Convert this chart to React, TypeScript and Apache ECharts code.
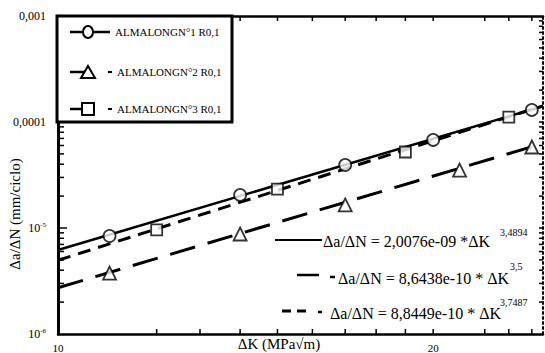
import React, { useEffect, useRef } from "react";
import * as echarts from "echarts";

// ---------- data ----------
const seriesNames = ["ALMALONGN°1 R0,1", "ALMALONGN°2 R0,1", "ALMALONGN°3 R0,1"];

const series1K = [11, 14, 17, 20, 24];
const series1V = [8.4e-6, 2.05e-5, 3.93e-5, 6.77e-5, 1.3e-4];
const series2K = [11, 14, 17, 21, 24];
const series2V = [3.76e-6, 8.78e-6, 1.65e-5, 3.52e-5, 5.81e-5];
const series3K = [12, 15, 19, 23];
const series3V = [9.6e-6, 2.33e-5, 5.21e-5, 1.11e-4];

// power-law fit lines (straight in log-log): values read at both ends
const fitK = [10, 24.5];
const fit1V = [6.2e-6, 1.41e-4];
const fit2V = [2.73e-6, 6.28e-5];
const fit3V = [4.96e-6, 1.42e-4];

const fitLabels = [
  "Δa/ΔN = 2,0076e-09 *ΔK",
  "Δa/ΔN = 8,6438e-10 * ΔK",
  "Δa/ΔN = 8,8449e-10 * ΔK",
];
const fitExponents = ["3,4894", "3,5", "3,7487"];

const xMin = 10;
const xMax = 24.5;
const yMin = 1e-6;
const yMax = 1e-3;
const xTickValues = [12, 13, 14, 15, 16, 17, 18, 19, 20, 22, 23, 24];
const xLabelValues = [10, 20];
const yMantissas = [2, 3, 4, 5, 6, 7, 8, 9];
const yDecades = [1e-6, 1e-5, 1e-4];
const yMajorTicks = [1e-5, 1e-4];

const xName = "ΔK (MPa√m)";
const yName = "Δa/ΔN (mm/ciclo)";

const FF = "Liberation Serif, DejaVu Serif, serif";
const BLACK = "#000";

function zip(k: number[], v: number[]) {
  return k.map((x, i) => [x, v[i]]);
}

function txt(x: number, y: number, text: string, size: number, extra: any = {}, align = "left") {
  return {
    type: "text",
    z: 52,
    x,
    y,
    ...extra,
    style: {
      text,
      fontSize: size,
      fontFamily: FF,
      fill: BLACK,
      align,
      textAlign: align,
      verticalAlign: "middle",
      textVerticalAlign: "middle",
    },
  };
}

function seg(x1: number, y1: number, x2: number, y2: number, w: number) {
  return { type: "line", z: 51, shape: { x1, y1, x2, y2 }, style: { stroke: BLACK, lineWidth: w } };
}

export default function App() {
  const ref = useRef<HTMLDivElement>(null);

  useEffect(() => {
    if (!ref.current) return;
    const chart = echarts.init(ref.current, null, { renderer: "svg" });

    const yMinorTicks: number[] = [];
    yDecades.forEach((d) => yMantissas.forEach((m) => yMinorTicks.push(m * d)));

    const tickStyle = { stroke: BLACK, lineWidth: 1.5 };

    const markerStyle = {
      color: "#fff",
      borderColor: BLACK,
      borderWidth: 1.8,
    };

    const graphic: any[] = [
      // legend box
      { type: "rect", z: 50, shape: { x: 57, y: 16, width: 175, height: 106 }, style: { fill: "#fff", stroke: BLACK, lineWidth: 3 } },
      // row 1
      seg(70, 32, 110, 32, 2.5),
      { type: "ellipse", z: 52, shape: { cx: 88, cy: 32, rx: 5, ry: 6 }, style: { fill: "#fff", stroke: BLACK, lineWidth: 2 } },
      txt(115, 32, seriesNames[0], 11),
      // row 2
      seg(70, 72, 92, 72, 2.5),
      { type: "polygon", z: 52, shape: { points: [[81, 78], [95, 78], [88, 66]] }, style: { fill: "#fff", stroke: BLACK, lineWidth: 2 } },
      seg(108, 72, 112, 72, 2),
      txt(117, 72, seriesNames[1], 11),
      // row 3
      seg(70, 109, 82, 109, 2.5),
      { type: "rect", z: 52, shape: { x: 82, y: 103, width: 12, height: 12 }, style: { fill: "#fff", stroke: BLACK, lineWidth: 2 } },
      seg(108, 109, 112, 109, 2),
      txt(117, 109, seriesNames[2], 11),

      // fit equations
      seg(275, 240, 322, 240, 2),
      txt(323, 241, fitLabels[0], 16),
      txt(500, 232, fitExponents[0], 10),

      seg(297, 275, 319, 275, 2.5),
      seg(330, 277, 335, 277, 2.5),
      txt(338, 278, fitLabels[1], 16),
      txt(510, 266, fitExponents[1], 10),

      seg(282, 311, 291, 311, 3),
      seg(297, 311, 306, 311, 3),
      seg(318, 312, 322, 312, 2.5),
      txt(330, 313, fitLabels[2], 16),
      txt(500, 302, fitExponents[2], 10),

      // axis names
      txt(279, 344, xName, 15, {}, "center"),
      txt(15, 214, yName, 15, { rotation: Math.PI / 2 }, "center"),
    ];

    const option: any = {
      animation: false,
      backgroundColor: "#fff",
      textStyle: { fontFamily: FF, color: BLACK },
      grid: { left: 58, right: 2, top: 16, bottom: 19, containLabel: false },
      xAxis: [
        {
          type: "log", logBase: 10, min: xMin, max: xMax, position: "bottom",
          axisLine: { show: true, lineStyle: { color: BLACK, width: 2.5 } },
          axisTick: { show: false }, axisLabel: { show: false }, splitLine: { show: false },
        },
        {
          type: "log", logBase: 10, min: xMin, max: xMax, position: "top",
          axisLine: { show: true, lineStyle: { color: BLACK, width: 2.5 } },
          axisTick: { show: false }, axisLabel: { show: false }, splitLine: { show: false },
        },
      ],
      yAxis: [
        {
          type: "log", logBase: 10, min: yMin, max: yMax, position: "left",
          axisLine: { show: true, lineStyle: { color: BLACK, width: 3 } },
          axisTick: { show: false }, splitLine: { show: false },
          axisLabel: {
            margin: 12,
            fontFamily: FF,
            fontSize: 12,
            color: BLACK,
            formatter: (v: number) => {
              const e = Math.round(Math.log10(v));
              if (e === -3) return "0,001";
              if (e === -4) return "0,0001";
              return `{b|10}{s|${e}}`;
            },
            rich: {
              b: { fontSize: 12, fontFamily: FF, color: BLACK, lineHeight: 14 },
              s: { fontSize: 7, fontFamily: FF, color: BLACK, lineHeight: 8, verticalAlign: "top" },
            },
          },
        },
        {
          type: "log", logBase: 10, min: yMin, max: yMax, position: "right",
          axisLine: { show: true, lineStyle: { color: BLACK, width: 2, type: [2, 3] } },
          axisTick: { show: false }, axisLabel: { show: false }, splitLine: { show: false },
        },
      ],
      series: [
        {
          type: "line", name: "fit1", data: zip(fitK, fit1V), symbol: "none", z: 3,
          lineStyle: { color: BLACK, width: 2.5, type: "solid" },
          markLine: {
            silent: true, symbol: ["none", "none"], label: { show: false },
            lineStyle: { color: BLACK, width: 2, type: [2, 3] },
            data: [{ yAxis: 1e-4 }, { yAxis: 1e-5 }],
          },
        },
        {
          type: "line", name: "fit2", data: zip(fitK, fit2V), symbol: "none", z: 3,
          lineStyle: { color: BLACK, width: 3, type: [26, 13] },
        },
        {
          type: "line", name: "fit3", data: zip(fitK, fit3V), symbol: "none", z: 3,
          lineStyle: { color: BLACK, width: 3, type: [13, 8] },
        },
        {
          type: "scatter", name: seriesNames[0], data: zip(series1K, series1V), z: 5,
          symbol: "circle", symbolSize: 12, itemStyle: markerStyle,
        },
        {
          type: "scatter", name: seriesNames[1], data: zip(series2K, series2V), z: 5,
          symbol: "triangle", symbolSize: 13, itemStyle: markerStyle,
        },
        {
          type: "scatter", name: seriesNames[2], data: zip(series3K, series3V), z: 5,
          symbol: "rect", symbolSize: 11, itemStyle: markerStyle,
        },
        {
          // x ticks on bottom and top axes
          type: "custom", name: "xticks", silent: true, clip: false, z: 6,
          data: xTickValues.map((v) => [v, yMin]),
          renderItem: (_p: any, api: any) => {
            const v = api.value(0);
            const b = api.coord([v, yMin]);
            const t = api.coord([v, yMax]);
            return {
              type: "group",
              children: [
                { type: "line", shape: { x1: b[0], y1: b[1], x2: b[0], y2: b[1] - 5 }, style: tickStyle },
                { type: "line", shape: { x1: t[0], y1: t[1], x2: t[0], y2: t[1] + 5 }, style: tickStyle },
              ],
            };
          },
        },
        {
          // y ticks on left and right axes
          type: "custom", name: "yticks", silent: true, clip: false, z: 6,
          data: yMinorTicks.concat(yMajorTicks).map((v) => [xMin, v]),
          renderItem: (p: any, api: any) => {
            const v = api.value(1);
            const major = p.dataIndex >= yMinorTicks.length;
            const l = api.coord([xMin, v]);
            const r = api.coord([xMax, v]);
            return {
              type: "group",
              children: [
                { type: "line", shape: { x1: l[0], y1: l[1], x2: l[0] + (major ? 9 : 6), y2: l[1] }, style: tickStyle },
                { type: "line", shape: { x1: r[0], y1: r[1], x2: r[0] - 4, y2: r[1] }, style: tickStyle },
              ],
            };
          },
        },
        {
          // x axis labels
          type: "custom", name: "xlabels", silent: true, clip: false, z: 6,
          data: xLabelValues.map((v) => [v, yMin]),
          renderItem: (_p: any, api: any) => {
            const v = api.value(0);
            const b = api.coord([v, yMin]);
            return {
              type: "text",
              x: b[0],
              y: b[1] + 8,
              style: {
                text: String(Math.round(v)),
                fontSize: 11,
                fontFamily: FF,
                fill: BLACK,
                align: "center",
                verticalAlign: "top",
                textAlign: "center",
                textVerticalAlign: "top",
              },
            };
          },
        },
      ],
      graphic: graphic,
    };

    chart.setOption(option);
    return () => chart.dispose();
  }, []);

  return (
    <div
      ref={ref}
      style={{ position: "fixed", left: 0, top: 0, width: 545, height: 353, background: "#fff" }}
    />
  );
}
